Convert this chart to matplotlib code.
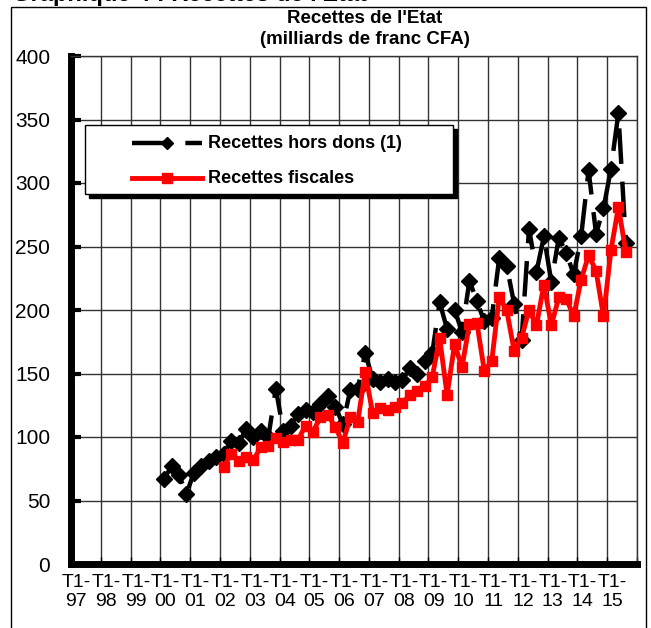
import matplotlib
matplotlib.use("Agg")
import matplotlib.pyplot as plt
import numpy as np
from matplotlib.lines import Line2D
from matplotlib.patches import Rectangle
from matplotlib.transforms import Affine2D

plt.rcParams['font.family'] = ['Liberation Sans', 'DejaVu Sans']

# years on the category axis (quarters T1..T4 of each year)
years = ['97', '98', '99', '00', '01', '02', '03', '04', '05', '06',
         '07', '08', '09', '10', '11', '12', '13', '14', '15']

# Recettes hors dons (1), from T1-00 to T3-15
recettes_hors_dons = [
    67, 77, 70, 55,
    72, 77, 81, 84,
    87, 97, 95, 106,
    100, 105, 100, 138,
    105, 109, 118, 121,
    120, 126, 132, 124,
    110, 137, 138, 166,
    146, 143, 146, 143,
    145, 154, 150, 160,
    166, 206, 185, 200,
    183, 223, 207, 191,
    194, 241, 235, 205,
    176, 264, 230, 258,
    222, 257, 245, 228,
    258, 310, 260, 280,
    311, 355, 253,
]

# Recettes fiscales, from T1-02 to T3-15
recettes_fiscales = [
    76, 87, 81, 84,
    82, 92, 93, 99,
    96, 98, 98, 109,
    104, 116, 117, 108,
    95, 116, 112, 151,
    119, 123, 121, 124,
    127, 133, 136, 140,
    147, 178, 133, 173,
    155, 189, 190, 152,
    160, 210, 200, 168,
    178, 200, 188, 220,
    188, 210, 209, 195,
    224, 243, 231, 195,
    247, 281, 246,
]

start_black = years.index('00') * 4
start_red = years.index('02') * 4
n_cat = len(years) * 4

W, H = 651, 628
fig = plt.figure(figsize=(W / 100, H / 100), dpi=100)
ax = fig.add_axes([71 / W, (H - 564) / H, (637 - 71) / W, (564 - 56) / H])

# pixel transform, origin at top-left of the picture
pix = Affine2D().scale(1 / W, -1 / H).translate(0, 1) + fig.transFigure

x_black = np.arange(start_black, start_black + len(recettes_hors_dons))
x_red = np.arange(start_red, start_red + len(recettes_fiscales))

black_style = dict(color='black', lw=3.2, ls=(0, (8, 4)), marker='D',
                   ms=8.5, mfc='black', mec='black')
red_style = dict(color='#ff0000', lw=3.5, marker='s', ms=7,
                 mfc='#ff0000', mec='#ff0000')

ax.plot(x_black, recettes_hors_dons, **black_style, zorder=3)
ax.plot(x_red, recettes_fiscales, **red_style, zorder=4)

ax.set_xlim(-0.5, n_cat - 0.5)
ax.set_ylim(0, 400)
ax.set_yticks(np.arange(0, 401, 50))

# year boundaries: gridlines every 4 quarters
ax.set_xticks(np.arange(0, n_cat + 1, 4) - 0.5, minor=True)
ax.set_xticks(np.arange(0, n_cat, 4) + 0.2)
ax.set_xticklabels(['T1-\n' + y for y in years])
ax.grid(True, which='minor', axis='x', color='#333333', lw=1)
ax.grid(True, which='major', axis='y', color='#333333', lw=1)
ax.set_axisbelow(True)

ax.tick_params(axis='y', direction='in', length=7, width=3, pad=15,
               labelsize=15)
ax.tick_params(axis='x', which='major', length=0, pad=7, labelsize=14)
ax.tick_params(axis='x', which='minor', direction='in', length=5, width=1)

for side in ['left', 'bottom']:
    ax.spines[side].set_linewidth(5)
for side in ['top', 'right']:
    ax.spines[side].set_linewidth(1)
    ax.spines[side].set_color('#333333')

# title
fig.text(365 / W, 1 - 29 / H, "Recettes de l'Etat\n(milliards de franc CFA)",
         ha='center', va='center', fontsize=13.5, fontweight='bold',
         linespacing=1.3)

# cut heading at the very top
fig.text(12 / W, 1 - 1 / H, "Graphique 4 : Recettes de l'Etat",
         ha='left', va='baseline', fontsize=17, fontweight='bold')

# chart border
fig.patches.append(Rectangle((11, 7), 635, 640, transform=pix, fill=False,
                             lw=1, ec='black'))

# legend box with shadow
fig.patches.append(Rectangle((89, 129), 368, 69, transform=pix,
                             fc='black', ec='black', zorder=5))
fig.patches.append(Rectangle((85, 125), 368, 69, transform=pix,
                             fc='white', ec='black', lw=1, zorder=6))
fig.lines.append(Line2D([132, 202], [143, 143], transform=pix, zorder=7,
                        color='black', lw=3.2, ls=(0, (8, 4))))
fig.lines.append(Line2D([167], [143], transform=pix, zorder=7, color='black',
                        marker='D', ms=6.5, ls='none'))
fig.lines.append(Line2D([132, 167, 202], [178, 178, 178], transform=pix,
                        zorder=7, color='#ff0000', lw=3.5, marker='s', ms=6.5,
                        markevery=[1], mfc='#ff0000', mec='#ff0000'))
fig.text(208 / W, 1 - 143 / H, 'Recettes hors dons (1)', ha='left',
         va='center', fontsize=13, fontweight='bold', zorder=7)
fig.text(208 / W, 1 - 178 / H, 'Recettes fiscales', ha='left',
         va='center', fontsize=13, fontweight='bold', zorder=7)

fig.savefig('out.png', dpi=100)
